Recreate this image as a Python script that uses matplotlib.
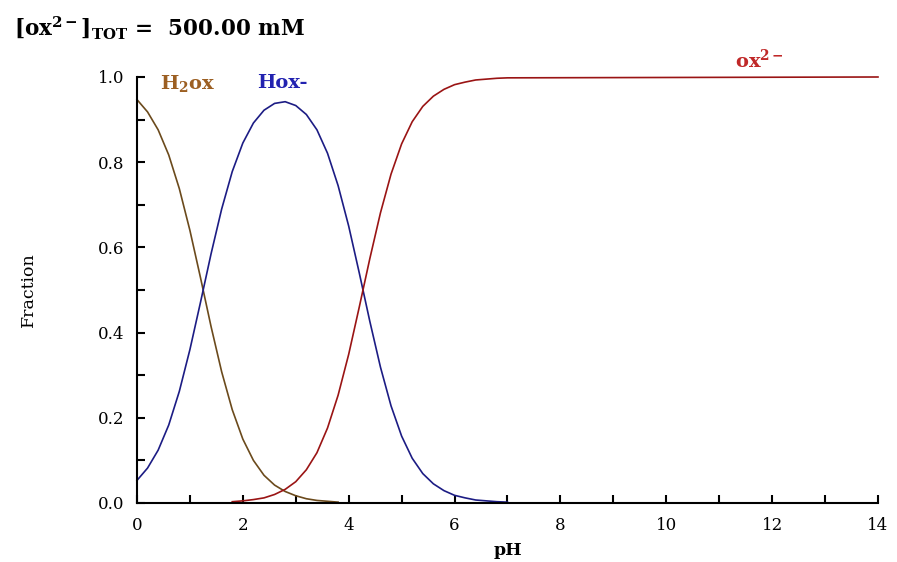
import matplotlib
matplotlib.use("Agg")
import matplotlib.pyplot as plt
from matplotlib.ticker import MultipleLocator

plt.rcParams['font.family'] = ['DejaVu Serif']
plt.rcParams['mathtext.fontset'] = 'dejavuserif'

# H2ox fraction
ph_h2ox = [0.0, 0.2, 0.4, 0.6, 0.8, 1.0, 1.2, 1.4, 1.6, 1.8, 2.0, 2.2, 2.4, 2.6,
           2.8, 3.0, 3.2, 3.4, 3.6, 3.8]
f_h2ox = [0.947, 0.918, 0.876, 0.817, 0.738, 0.640, 0.529, 0.414, 0.308, 0.219, 0.150, 0.100,
          0.065, 0.042, 0.027, 0.017, 0.010, 0.006, 0.004, 0.002]

# Hox- fraction
ph_hox = [0.0, 0.2, 0.4, 0.6, 0.8, 1.0, 1.2, 1.4, 1.6, 1.8, 2.0, 2.2, 2.4, 2.6,
          2.8, 3.0, 3.2, 3.4, 3.6, 3.8, 4.0, 4.2, 4.4, 4.6, 4.8, 5.0, 5.2, 5.4,
          5.6, 5.8, 6.0, 6.2, 6.4, 6.6, 6.8, 7.0]
f_hox = [0.053, 0.082, 0.124, 0.183, 0.262, 0.360, 0.471, 0.585, 0.690, 0.778, 0.845, 0.892,
         0.922, 0.938, 0.942, 0.933, 0.912, 0.876, 0.821, 0.745, 0.650, 0.540, 0.426, 0.319,
         0.228, 0.157, 0.105, 0.069, 0.045, 0.029, 0.018, 0.012, 0.007, 0.005, 0.003, 0.002]

# ox2- fraction
ph_ox = [1.8, 2.0, 2.2, 2.4, 2.6, 2.8, 3.0, 3.2, 3.4, 3.6, 3.8, 4.0, 4.2, 4.4, 4.6,
         4.8, 5.0, 5.2, 5.4, 5.6, 5.8, 6.0, 6.2, 6.4, 6.6, 6.8, 7.0, 14.0]
f_ox = [0.003, 0.005, 0.008, 0.012, 0.020, 0.032, 0.050, 0.078, 0.118, 0.176, 0.253, 0.349,
        0.460, 0.574, 0.681, 0.772, 0.843, 0.895, 0.931, 0.955, 0.971, 0.982, 0.988, 0.993,
        0.995, 0.997, 0.998, 1.000]

fig = plt.figure(figsize=(8.97, 5.62), dpi=100)
ax = fig.add_axes([0.1527, 0.105, 0.8261, 0.758])

ax.plot(ph_h2ox, f_h2ox, color='#6b4a1c', lw=1.2, clip_on=False)
ax.plot(ph_hox, f_hox, color='#1c1c84', lw=1.2, clip_on=False)
ax.plot(ph_ox, f_ox, color='#9a1414', lw=1.2, clip_on=False)

ax.set_xlim(0, 14)
ax.set_ylim(0, 1.0)
ax.xaxis.set_major_locator(MultipleLocator(2))
ax.xaxis.set_minor_locator(MultipleLocator(1))
ax.yaxis.set_major_locator(MultipleLocator(0.2))
ax.yaxis.set_minor_locator(MultipleLocator(0.1))
ax.xaxis.set_major_formatter(plt.FuncFormatter(lambda v, p: f"{v:.0f}"))
ax.yaxis.set_major_formatter(plt.FuncFormatter(lambda v, p: f"{v:.1f}"))

for s in ['top', 'right']:
    ax.spines[s].set_visible(False)
for s in ['left', 'bottom']:
    ax.spines[s].set_linewidth(1.5)
    ax.spines[s].set_color('black')

ax.tick_params(which='both', direction='in', length=6, width=1.5, colors='black')
ax.tick_params(axis='x', which='major', labelsize=12, pad=10)
ax.tick_params(axis='y', which='major', labelsize=12, pad=9)

ax.set_xlabel('pH', fontsize=12.5, fontweight='bold', labelpad=6)
ax.set_ylabel('Fraction', fontsize=12.5, labelpad=44)

ax.text(0.43, 0.985, r'H$_{\mathbf{2}}$ox', color='#9c5f22', fontsize=14, fontweight='bold',
        ha='left', va='center')
ax.text(2.27, 0.985, 'Hox-', color='#2222b0', fontsize=14, fontweight='bold',
        ha='left', va='center')
ax.text(11.3, 1.04, r'ox$^{\mathbf{2-}}$', color='#c02828', fontsize=14, fontweight='bold',
        ha='left', va='center')

fig.text(0.016, 0.950, r'[ox$^{\mathbf{2-}}$]$_{\mathbf{TOT}}$ =  500.00 mM', fontsize=15.5,
         fontweight='bold', ha='left', va='center')

fig.savefig('out.png', dpi=100, facecolor='white')
